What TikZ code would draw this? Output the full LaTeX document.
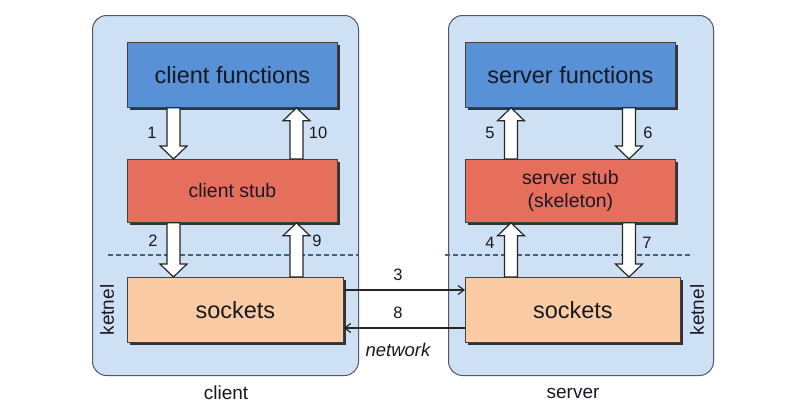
\documentclass[tikz,border=0pt]{standalone}
\usepackage{fontspec}
\setmainfont{Liberation Sans}
\usetikzlibrary{calc,shadows,arrows.meta}
\definecolor{contfill}{RGB}{206,225,244}
\definecolor{contline}{RGB}{85,88,98}
\definecolor{funcfill}{RGB}{88,145,214}
\definecolor{stubfill}{RGB}{229,110,92}
\definecolor{sockfill}{RGB}{251,204,163}
\definecolor{dashcol}{RGB}{70,95,130}
\definecolor{txt}{RGB}{25,25,35}
\tikzset{
  container/.style={draw=contline, line width=1pt, fill=contfill, rounded corners=14pt, anchor=north west, inner sep=0pt},
  layer/.style={draw=black!75, line width=0.8pt, anchor=north west, inner sep=0pt, text=txt,
    drop shadow={shadow xshift=2.5pt, shadow yshift=-2.5pt, fill=black!80, opacity=1}},
  funcbox/.style={layer, fill=funcfill, minimum width=210pt, minimum height=65pt, font=\fontsize{23.5}{27}\selectfont},
  stubbox/.style={layer, fill=stubfill, minimum width=210pt, minimum height=63pt, font=\fontsize{19.5}{23}\selectfont, align=center},
  sockbox/.style={layer, fill=sockfill, minimum height=65pt, font=\fontsize{23.5}{27}\selectfont},
  num/.style={font=\fontsize{16.5}{18}\selectfont, text=txt, inner sep=0pt},
  lbl/.style={font=\fontsize{19}{22}\selectfont, text=txt, inner sep=0pt},
  barrow/.style={draw=black!85, line width=1.2pt, fill=white, line join=miter},
  netline/.style={draw=black!85, line width=1.3pt, -{Straight Barb[length=6pt,width=9pt,line width=1.2pt]}},
  dashline/.style={draw=dashcol, line width=1.1pt, dash pattern=on 5pt off 3pt},
}
% #1 start, #2 end, #3 = 1 for downward, -1 for upward
\newcommand\blockarr[3]{%
  \draw[barrow] let \p1=#1, \p2=#2 in
    ({\x1-6.5pt},\y1) -- ({\x1-6.5pt},{\y2+(#3)*13pt}) -- ({\x1-13.5pt},{\y2+(#3)*13pt})
    -- (\x1,\y2) -- ({\x1+13.5pt},{\y2+(#3)*13pt}) -- ({\x1+6.5pt},{\y2+(#3)*13pt})
    -- ({\x1+6.5pt},\y1) -- cycle;}
\begin{document}
\begin{tikzpicture}[x=1pt,y=-1pt]
\fill[white] (0,0) rectangle (801,407);
\useasboundingbox (0,0) rectangle (801,407);

% containers
\node[container, minimum width=266pt, minimum height=360pt] (lc) at (92,15) {};
\node[container, minimum width=265pt, minimum height=360pt] (rc) at (448,15) {};

% dashed kernel lines
\coordinate (dl1) at (108,255);
\coordinate (dl2) at (358,255);
\coordinate (dr1) at (445,255);
\coordinate (dr2) at (693,255);
\draw[dashline] (dl1) -- (dl2);
\draw[dashline] (dr1) -- (dr2);

% client side
\node[funcbox] (cf) at (127,42) {client functions};
\node[stubbox] (cs) at (127,159) {client stub};
\node[sockbox, minimum width=216pt] (ck) at (127,277) {sockets};

% server side
\node[funcbox] (sf) at (465,42) {server functions};
\node[stubbox] (ss) at (465,159) {server stub\\(skeleton)};
\node[sockbox, minimum width=215pt] (sk) at (465,277) {sockets};

% x positions of block arrows
\coordinate (xa) at (173.5,0);
\coordinate (xb) at (296.5,0);
\coordinate (xc) at (511,0);
\coordinate (xd) at (629,0);

\blockarr{(cf.south -| xa)}{(cs.north -| xa)}{1}
\blockarr{(cs.north -| xb)}{(cf.south -| xb)}{-1}
\blockarr{(cs.south -| xa)}{(ck.north -| xa)}{1}
\blockarr{(ck.north -| xb)}{(cs.south -| xb)}{-1}
\blockarr{(ss.north -| xc)}{(sf.south -| xc)}{-1}
\blockarr{(sf.south -| xd)}{(ss.north -| xd)}{1}
\blockarr{(sk.north -| xc)}{(ss.south -| xc)}{-1}
\blockarr{(ss.south -| xd)}{(sk.north -| xd)}{1}

% numbers
\node[num] (n1) at (152,133) {1};
\node[num] (n10) at (318,133) {10};
\node[num] (n2) at (153,241) {2};
\node[num] (n9) at (317,241) {9};
\node[num] (n5) at (490,133) {5};
\node[num] (n6) at (648,133) {6};
\node[num] (n4) at (490,243) {4};
\node[num] (n7) at (647,243) {7};

% network
\coordinate (y3) at (0,290);
\coordinate (y8) at (0,328);
\draw[netline] (ck.east |- y3) -- (sk.west |- y3);
\draw[netline] (sk.west |- y8) -- (ck.east |- y8);
\node[num] (n3) at (398,275) {3};
\node[num] (n8) at (398,313) {8};
\node[lbl, font=\fontsize{18.5}{20}\selectfont\itshape] (net) at (398,350) {network};

% kernel labels
\node[lbl, rotate=90] (kl) at (107,310) {ketnel};
\node[lbl, rotate=90] (kr) at (697,310) {ketnel};

% side labels
\node[lbl] (cl) at (226,393) {client};
\node[lbl] (sl) at (573,393) {server};
\end{tikzpicture}
\end{document}
